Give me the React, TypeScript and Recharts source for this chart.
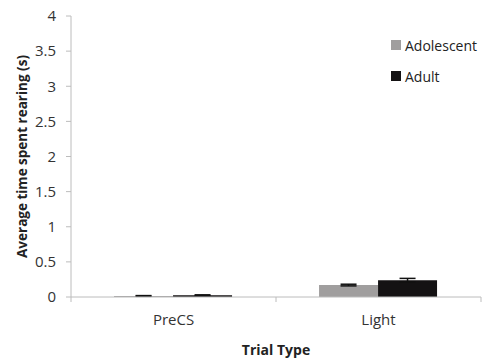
import React from 'react';
import { BarChart, Bar, XAxis, YAxis, ErrorBar } from 'recharts';

const categories = ['PreCS', 'Light'];
const adolescent = [0.015, 0.17];
const adolescentErr = [0.005, 0.012];
const adult = [0.025, 0.24];
const adultErr = [0.006, 0.025];
const yTicks = [0, 0.5, 1, 1.5, 2, 2.5, 3, 3.5, 4];

const COLORS = { adolescent: '#a09e9e', adult: '#141213' };
const AXIS = '#bcbcbc';
const FONT = '"Open Sans", sans-serif';

const WIDTH = 487;
const HEIGHT = 358;
const Y_AXIS_W = 71;
const RIGHT = 6;
const HALF_BAND = (WIDTH - Y_AXIS_W - RIGHT) / categories.length / 2;

const data = categories.map((name, i) => ({
  name,
  adolescent: adolescent[i],
  adolescentErr: adolescentErr[i],
  adult: adult[i],
  adultErr: adultErr[i],
}));

const legendItems = [
  { label: 'Adolescent', color: COLORS.adolescent },
  { label: 'Adult', color: COLORS.adult },
];

// category label plus Excel-style tick marks on the category boundaries
const CategoryTick = (props: any) => {
  const { x, y, payload, index } = props;
  return (
    <g>
      {index === 0 && <path d={`M${x - HALF_BAND},${y}v5`} stroke={AXIS} fill="none" />}
      <path d={`M${x + HALF_BAND},${y}v5`} stroke={AXIS} fill="none" />
      <text x={x} y={y} dy={28} textAnchor="middle" fill="#333" fontSize={15} fontFamily={FONT}>
        {payload.value}
      </text>
    </g>
  );
};

const App: React.FC = () => {
  return (
    <div style={{ position: 'absolute', left: 0, top: 0, width: WIDTH, height: HEIGHT, background: '#fff' }}>
      <BarChart
        width={WIDTH}
        height={HEIGHT}
        data={data}
        margin={{ top: 16, right: RIGHT, left: 0, bottom: 31 }}
        barCategoryGap="21%"
        barGap={0}
      >
        <XAxis
          dataKey="name"
          axisLine={{ stroke: AXIS }}
          tickLine={false}
          tickSize={0}
          tickMargin={0}
          tick={<CategoryTick />}
          height={30}
          label={{ value: 'Trial Type', position: 'insideBottom', offset: -28, fill: '#222', fontSize: 14, fontWeight: 700, fontFamily: FONT }}
        />
        <YAxis
          domain={[0, 4]}
          ticks={yTicks}
          width={Y_AXIS_W}
          axisLine={{ stroke: AXIS }}
          tickLine={{ stroke: AXIS }}
          tickSize={5}
          tickMargin={10}
          tick={{ fill: '#333', fontSize: 15, fontFamily: FONT }}
          label={{ value: 'Average time spent rearing (s)', angle: -90, position: 'insideLeft', offset: 22, fill: '#222', fontSize: 13.5, fontWeight: 700, fontFamily: FONT, style: { textAnchor: 'middle' } }}
        />
        <Bar dataKey="adolescent" fill={COLORS.adolescent} isAnimationActive={false}>
          <ErrorBar dataKey="adolescentErr" width={8} stroke="#111" strokeWidth={1.5} direction="y" />
        </Bar>
        <Bar dataKey="adult" fill={COLORS.adult} isAnimationActive={false}>
          <ErrorBar dataKey="adultErr" width={8} stroke="#111" strokeWidth={1.5} direction="y" />
        </Bar>
      </BarChart>
      <div style={{ position: 'absolute', left: 391, top: 36, fontFamily: FONT, fontSize: 14, color: '#222' }}>
        {legendItems.map((item, i) => (
          <div key={item.label} style={{ display: 'flex', alignItems: 'center', height: 18, marginBottom: i === 0 ? 13 : 0 }}>
            <span style={{ width: 10, height: 10, background: item.color, marginRight: 4, display: 'inline-block' }} />
            <span>{item.label}</span>
          </div>
        ))}
      </div>
    </div>
  );
};

export default App;
